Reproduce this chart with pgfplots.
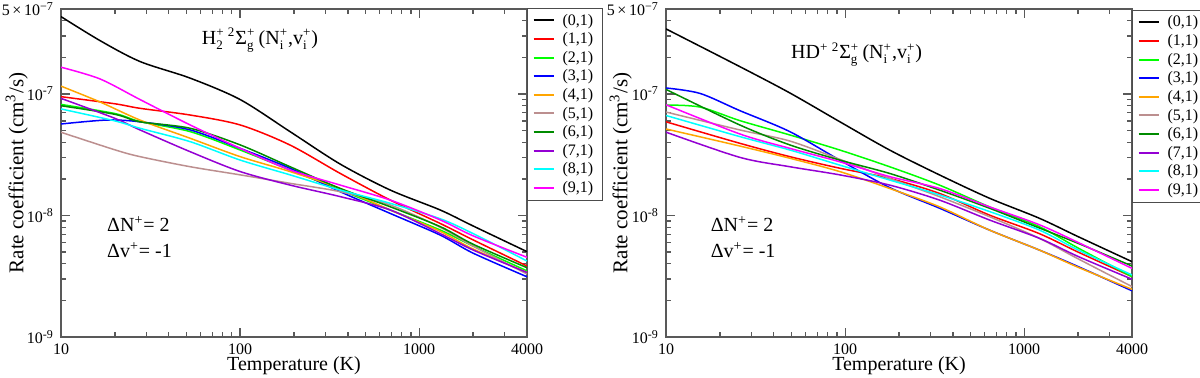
\documentclass[border=0pt]{standalone}
\usepackage{fontspec}
\setmainfont{Liberation Serif}
\usepackage{pgfplots}
\pgfplotsset{compat=1.18}
\definecolor{cgreen}{RGB}{0,255,0}
\definecolor{corange}{RGB}{255,165,0}
\definecolor{cbrown}{RGB}{188,143,143}
\definecolor{cdkgreen}{RGB}{0,139,0}
\definecolor{cviolet}{RGB}{148,0,211}
\definecolor{ccyan}{RGB}{0,255,255}
\definecolor{cmag}{RGB}{255,0,255}
\newcommand{\tickfont}{\fontsize{8}{9.6}\selectfont}
\newcommand{\labfont}{\fontsize{10}{12}\selectfont}
\newcommand{\ylabfont}{\fontsize{10.5}{12}\selectfont}
\newcommand{\supsub}[2]{$^{\hbox{\fontsize{6.5}{7}\selectfont #1}}_{\hbox{\fontsize{6.5}{7}\selectfont #2}}$}
\pgfplotsset{
  legend image code/.code={\draw[#1, line width=1pt] (0pt,0.25pt) -- (10pt,0.25pt);},
}
\begin{document}
\begin{tikzpicture}
\path[use as bounding box] (0,0) rectangle (600pt,188.5pt);
% ---------------- Left panel: H2+ ----------------
\begin{axis}[at={(30.5pt,20pt)},
    scale only axis, width=233pt, height=164pt, anchor=south west,
    xmode=log, ymode=log, xmin=10, xmax=4000, ymin=1e-9, ymax=5e-7,
    xtick={10,100,1000,4000}, xticklabels={10,100,1000,4000},
    minor xtick={20,30,40,50,60,70,80,90,200,300,400,500,600,700,800,900,2000,3000},
    ytick={1e-9,1e-8,1e-7,5e-7},
    yticklabels={10\textsuperscript{-9},10\textsuperscript{-8},10\textsuperscript{-7},5\,×\,10\textsuperscript{−7}},
    minor ytick={2e-9,3e-9,4e-9,5e-9,6e-9,7e-9,8e-9,9e-9,2e-8,3e-8,4e-8,5e-8,6e-8,7e-8,8e-8,9e-8,2e-7,3e-7,4e-7},
    tick align=inside, major tick length=4.5pt, minor tick length=2.5pt,
    axis line style={black!65, line width=0.6pt},
    every tick/.style={black!65, line width=0.6pt},
    tick label style={font=\tickfont},
    xlabel={Temperature (K)},
    ylabel={Rate coefficient (cm\textsuperscript{3}/s)},
    xlabel style={font=\labfont, at={(axis description cs:0.5,-0.088)}, anchor=center},
    ylabel style={font=\ylabfont, at={(axis description cs:-0.095,0.5)}, anchor=center},
    legend style={at={(1,1.003)}, anchor=north west, draw=black!70, line width=0.6pt,
      font=\tickfont, cells={anchor=west}, row sep=0pt,
      nodes={text height=6.2pt, text depth=2.1pt, inner ysep=0.5pt},
      inner xsep=2.5pt, inner ysep=1.5pt,
      /tikz/every odd column/.append style={column sep=2pt}},
    every axis plot/.append style={line width=0.75pt, smooth, tension=0.5},
  ]
\addplot[black] coordinates {(10,4.33e-7)(16.5,2.75e-7)(27.6,1.85e-7)(52.6,1.35e-7)(100,9.0e-8)(190,4.9e-8)(362,2.65e-8)(689,1.62e-8)(1310,1.11e-8)(2000,8.2e-9)(4000,5.04e-9)};
\addlegendentry{(0,1)}
\addplot[red] coordinates {(10,9.5e-8)(20,8.3e-8)(27.6,7.62e-8)(52.6,6.71e-8)(100,5.56e-8)(190,3.8e-8)(362,2.22e-8)(689,1.34e-8)(1310,8.6e-9)(2000,6.3e-9)(4000,3.84e-9)};
\addlegendentry{(1,1)}
\addplot[cgreen] coordinates {(10,8.2e-8)(20,6.9e-8)(27.6,5.93e-8)(52.6,4.9e-8)(100,3.46e-8)(190,2.37e-8)(362,1.62e-8)(689,1.11e-8)(1310,7.6e-9)(2000,5.6e-9)(4000,3.5e-9)};
\addlegendentry{(2,1)}
\addplot[blue] coordinates {(10,5.66e-8)(18,6.1e-8)(27.6,5.9e-8)(52.6,5.06e-8)(100,3.57e-8)(190,2.45e-8)(362,1.57e-8)(689,1.04e-8)(1310,6.9e-9)(2000,4.9e-9)(4000,3.13e-9)};
\addlegendentry{(3,1)}
\addplot[corange] coordinates {(10,1.16e-7)(16.5,8.6e-8)(27.6,6.1e-8)(52.6,4.32e-8)(100,3.05e-8)(190,2.3e-8)(362,1.67e-8)(689,1.11e-8)(1310,7.4e-9)(2000,5.3e-9)(4000,3.4e-9)};
\addlegendentry{(4,1)}
\addplot[cbrown] coordinates {(10,4.84e-8)(20,3.47e-8)(27.6,3.05e-8)(52.6,2.52e-8)(100,2.16e-8)(190,1.84e-8)(362,1.57e-8)(689,1.22e-8)(1310,8.0e-9)(2000,5.6e-9)(4000,3.3e-9)};
\addlegendentry{(5,1)}
\addplot[cdkgreen] coordinates {(10,8.0e-8)(20,6.8e-8)(27.6,5.9e-8)(52.6,5.22e-8)(100,3.81e-8)(190,2.52e-8)(362,1.67e-8)(689,1.18e-8)(1310,8.1e-9)(2000,5.8e-9)(4000,3.72e-9)};
\addlegendentry{(6,1)}
\addplot[cviolet] coordinates {(10,9.2e-8)(20,6.3e-8)(27.6,5.06e-8)(52.6,3.35e-8)(100,2.3e-8)(190,1.78e-8)(362,1.43e-8)(689,1.11e-8)(1310,7.1e-9)(2000,5.2e-9)(4000,3.4e-9)};
\addlegendentry{(7,1)}
\addplot[ccyan] coordinates {(10,7.53e-8)(20,6.0e-8)(27.6,5.22e-8)(52.6,4.05e-8)(100,2.86e-8)(190,2.16e-8)(362,1.62e-8)(689,1.26e-8)(1310,9.4e-9)(2000,7.1e-9)(4000,4.22e-9)};
\addlegendentry{(8,1)}
\addplot[cmag] coordinates {(10,1.66e-7)(16.5,1.33e-7)(27.6,9.0e-8)(52.6,5.56e-8)(100,3.57e-8)(190,2.37e-8)(362,1.78e-8)(689,1.34e-8)(1310,9.2e-9)(2000,6.8e-9)(4000,4.53e-9)};
\addlegendentry{(9,1)}
\node[font=\labfont, anchor=center] at (rel axis cs:0.427,0.905)
  {H\supsub{+}{2}\,\supsub{2}{}Σ\supsub{+}{g}\,(N\supsub{+}{i},v\supsub{+}{i})};
\node[font=\labfont, anchor=west] at (rel axis cs:0.084,0.345) {ΔN\textsuperscript{+}= 2};
\node[font=\labfont, anchor=west] at (rel axis cs:0.084,0.265) {Δv\textsuperscript{+}= -1};
\end{axis}
% ---------------- Right panel: HD+ ----------------
\begin{axis}[at={(333pt,20pt)},
    scale only axis, width=233pt, height=164pt, anchor=south west,
    xmode=log, ymode=log, xmin=10, xmax=4000, ymin=1e-9, ymax=5e-7,
    xtick={10,100,1000,4000}, xticklabels={10,100,1000,4000},
    minor xtick={20,30,40,50,60,70,80,90,200,300,400,500,600,700,800,900,2000,3000},
    ytick={1e-9,1e-8,1e-7,5e-7},
    yticklabels={10\textsuperscript{-9},10\textsuperscript{-8},10\textsuperscript{-7},5\,×\,10\textsuperscript{−7}},
    minor ytick={2e-9,3e-9,4e-9,5e-9,6e-9,7e-9,8e-9,9e-9,2e-8,3e-8,4e-8,5e-8,6e-8,7e-8,8e-8,9e-8,2e-7,3e-7,4e-7},
    tick align=inside, major tick length=4.5pt, minor tick length=2.5pt,
    axis line style={black!65, line width=0.6pt},
    every tick/.style={black!65, line width=0.6pt},
    tick label style={font=\tickfont},
    xlabel={Temperature (K)},
    ylabel={Rate coefficient (cm\textsuperscript{3}/s)},
    xlabel style={font=\labfont, at={(axis description cs:0.5,-0.088)}, anchor=center},
    ylabel style={font=\ylabfont, at={(axis description cs:-0.097,0.5)}, anchor=center},
    legend style={at={(1,0.997)}, anchor=north west, draw=black!70, line width=0.6pt,
      font=\tickfont, cells={anchor=west}, row sep=0pt,
      nodes={text height=6.2pt, text depth=2.1pt, inner ysep=0.5pt},
      inner xsep=2.5pt, inner ysep=1.5pt,
      /tikz/every odd column/.append style={column sep=2pt}},
    every axis plot/.append style={line width=0.75pt, smooth, tension=0.5},
  ]
\addplot[black] coordinates {(10,3.43e-7)(25.8,1.68e-7)(49.1,1.02e-7)(93.2,5.92e-8)(177,3.46e-8)(336,2.16e-8)(638,1.39e-8)(1213,9.5e-9)(2000,6.7e-9)(4000,4.17e-9)};
\addlegendentry{(0,1)}
\addplot[red] coordinates {(10,5.9e-8)(25.8,3.93e-8)(49.1,3.05e-8)(93.2,2.45e-8)(177,2.02e-8)(336,1.52e-8)(638,1.01e-8)(1213,7.1e-9)(2000,5.0e-9)(4000,3.14e-9)};
\addlegendentry{(1,1)}
\addplot[cgreen] coordinates {(10,8.1e-8)(15.5,7.8e-8)(25.8,6.04e-8)(49.1,4.6e-8)(93.2,3.46e-8)(177,2.52e-8)(336,1.78e-8)(638,1.18e-8)(1213,8.1e-9)(2000,5.4e-9)(4000,3.14e-9)};
\addlegendentry{(2,1)}
\addplot[blue] coordinates {(10,1.12e-7)(15.5,1.01e-7)(25.8,7.3e-8)(49.1,4.9e-8)(93.2,2.86e-8)(177,1.7e-8)(336,1.15e-8)(638,7.6e-9)(1213,5.2e-9)(2000,3.8e-9)(4000,2.4e-9)};
\addlegendentry{(3,1)}
\addplot[corange] coordinates {(10,5.15e-8)(25.8,3.73e-8)(49.1,2.96e-8)(93.2,2.3e-8)(177,1.67e-8)(336,1.18e-8)(638,7.6e-9)(1213,5.2e-9)(2000,3.75e-9)(4000,2.47e-9)};
\addlegendentry{(4,1)}
\addplot[cbrown] coordinates {(10,7.1e-8)(25.8,5.06e-8)(49.1,4.1e-8)(93.2,2.9e-8)(177,2.02e-8)(336,1.43e-8)(638,9.8e-9)(1213,6.5e-9)(2000,4.4e-9)(4000,2.6e-9)};
\addlegendentry{(5,1)}
\addplot[cdkgreen] coordinates {(10,1.09e-7)(25.8,5.56e-8)(49.1,3.81e-8)(93.2,2.86e-8)(177,2.22e-8)(336,1.62e-8)(638,1.15e-8)(1213,7.9e-9)(2000,5.9e-9)(4000,3.84e-9)};
\addlegendentry{(6,1)}
\addplot[cviolet] coordinates {(10,4.85e-8)(25.8,3.01e-8)(49.1,2.52e-8)(93.2,2.16e-8)(177,1.78e-8)(336,1.34e-8)(638,9.2e-9)(1213,6.5e-9)(2000,4.6e-9)(4000,2.99e-9)};
\addlegendentry{(7,1)}
\addplot[ccyan] coordinates {(10,6.65e-8)(25.8,4.46e-8)(49.1,3.46e-8)(93.2,2.6e-8)(177,1.96e-8)(336,1.48e-8)(638,1.08e-8)(1213,7.6e-9)(2000,5.2e-9)(4000,3.24e-9)};
\addlegendentry{(8,1)}
\addplot[cmag] coordinates {(10,8.15e-8)(25.8,4.69e-8)(49.1,3.57e-8)(93.2,2.77e-8)(177,2.09e-8)(336,1.67e-8)(638,1.18e-8)(1213,8.4e-9)(2000,6.0e-9)(4000,3.67e-9)};
\addlegendentry{(9,1)}
\node[font=\labfont, anchor=center] at (rel axis cs:0.409,0.86)
  {HD\supsub{+}{}\,\supsub{2}{}Σ\supsub{+}{g}\,(N\supsub{+}{i},v\supsub{+}{i})};
\node[font=\labfont, anchor=west] at (rel axis cs:0.081,0.345) {ΔN\textsuperscript{+}= 2};
\node[font=\labfont, anchor=west] at (rel axis cs:0.081,0.265) {Δv\textsuperscript{+}= -1};
\end{axis}
\end{tikzpicture}
\end{document}
